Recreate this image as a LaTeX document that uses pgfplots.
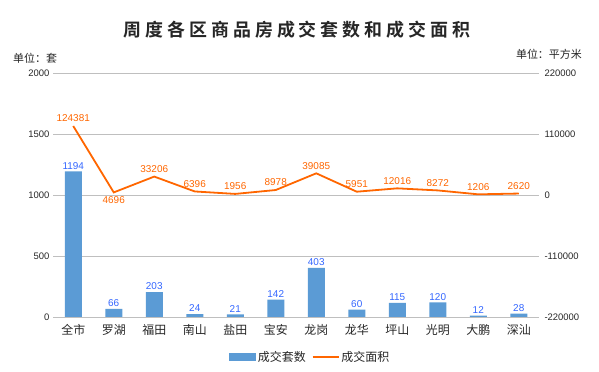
\documentclass[border=0pt]{standalone}
\usepackage{pgfplots}
\pgfplotsset{compat=1.18}
\usepackage{fontspec}
\setmainfont{Liberation Sans}
\newfontfamily\cjk{Noto Sans CJK SC}
\newfontfamily\cjktitle[LetterSpace=22]{Noto Sans CJK SC Bold}
\definecolor{barblue}{HTML}{5B9BD5}
\definecolor{lineorange}{HTML}{FF6600}
\definecolor{lblblue}{HTML}{3366FF}
\definecolor{gridgray}{HTML}{BFBFBF}
\definecolor{txt}{HTML}{262626}
\begin{document}
\begin{tikzpicture}
\useasboundingbox (0bp,0bp) rectangle (599bp,372bp);
\node[font=\cjktitle\fontsize{18}{18}\selectfont, text=txt] at (297bp,342.5bp) {周度各区商品房成交套数和成交面积};
\node[anchor=west, font=\cjk\fontsize{11}{11}\selectfont, text=txt, inner sep=0pt] at (13bp,314bp) {单位：套};
\node[anchor=east, font=\cjk\fontsize{11}{11}\selectfont, text=txt, inner sep=0pt] at (582bp,318bp) {单位：平方米};
\begin{axis}[
  at={(53bp,55bp)}, anchor=south west,
  scale only axis, width=486bp, height=244bp,
  xmin=-0.5, xmax=11.5, ymin=0, ymax=2000,
  xtick={0,...,11},
  xticklabels={全市,罗湖,福田,南山,盐田,宝安,龙岗,龙华,坪山,光明,大鹏,深汕},
  xticklabel style={font=\cjk\fontsize{12}{12}\selectfont, text=txt, yshift=-4bp},
  ytick={0,500,1000,1500,2000},
  yticklabel style={font=\fontsize{9.5}{9.5}\selectfont, text=txt},
  /pgf/number format/assume math mode=true,
  /pgf/number format/1000 sep={},
  ymajorgrids, grid style={gridgray, line width=0.8bp},
  axis line style={draw=none},
  major tick length=0pt,
  axis y line*=left,
  legend style={at={(axis description cs:0.529,-0.164)}, anchor=center, draw=none,
    font=\cjk\fontsize{12}{12}\selectfont, text=txt, legend columns=2,
    /tikz/every even column/.append style={column sep=4bp}},
  legend cell align=left,
]
\addplot[ybar, bar width=17bp, fill=barblue, draw=none,
  point meta=explicit symbolic,
  nodes near coords,
  every node near coord/.append style={font=\fontsize{10}{10}\selectfont, text=lblblue, inner sep=2bp},
  legend image code/.code={\fill[barblue] (0bp,-4bp) rectangle (27bp,4bp);}]
coordinates {
(0,1194) [1194]
(1,66) [66]
(2,203) [203]
(3,24) [24]
(4,21) [21]
(5,142) [142]
(6,403) [403]
(7,60) [60]
(8,115) [115]
(9,120) [120]
(10,12) [12]
(11,28) [28]
};
\addlegendentry{成交套数}
\addlegendimage{legend image code/.code={\draw[lineorange, line width=1.8bp] (0bp,0bp) -- (26bp,0bp);}}
\addlegendentry{成交面积}
\end{axis}
\begin{axis}[
  at={(53bp,55bp)}, anchor=south west,
  scale only axis, width=486bp, height=244bp,
  xmin=-0.5, xmax=11.5, ymin=-220000, ymax=220000,
  scaled y ticks=false,
  axis x line=none,
  axis y line*=right,
  axis line style={draw=none},
  major tick length=0pt,
  ytick={-220000,-110000,0,110000,220000},
  yticklabels={-220000,-110000,0,110000,220000},
  yticklabel style={font=\fontsize{9.5}{9.5}\selectfont, text=txt, xshift=2bp},
]
\addplot[lineorange, line width=1.8bp, mark=none]
coordinates {
(0,124381) (1,4696) (2,33206) (3,6396) (4,1956) (5,8978)
(6,39085) (7,5951) (8,12016) (9,8272) (10,1206) (11,2620)
};
\addplot[draw=none, mark=none,
  point meta=explicit symbolic,
  nodes near coords,
  every node near coord/.append style={font=\fontsize{10}{10}\selectfont, text=lineorange, inner sep=4bp, anchor=south}]
coordinates {
(0,124381) [124381]
(2,33206) [33206]
(3,6396) [6396]
(4,1956) [1956]
(5,8978) [8978]
(6,39085) [39085]
(7,5951) [5951]
(8,12016) [12016]
(9,8272) [8272]
(10,1206) [1206]
(11,2620) [2620]
};
\addplot[draw=none, mark=none,
  point meta=explicit symbolic,
  nodes near coords,
  every node near coord/.append style={font=\fontsize{10}{10}\selectfont, text=lineorange, inner sep=4bp, anchor=north}]
coordinates {
(1,4696) [4696]
};
\end{axis}
\end{tikzpicture}
\end{document}
